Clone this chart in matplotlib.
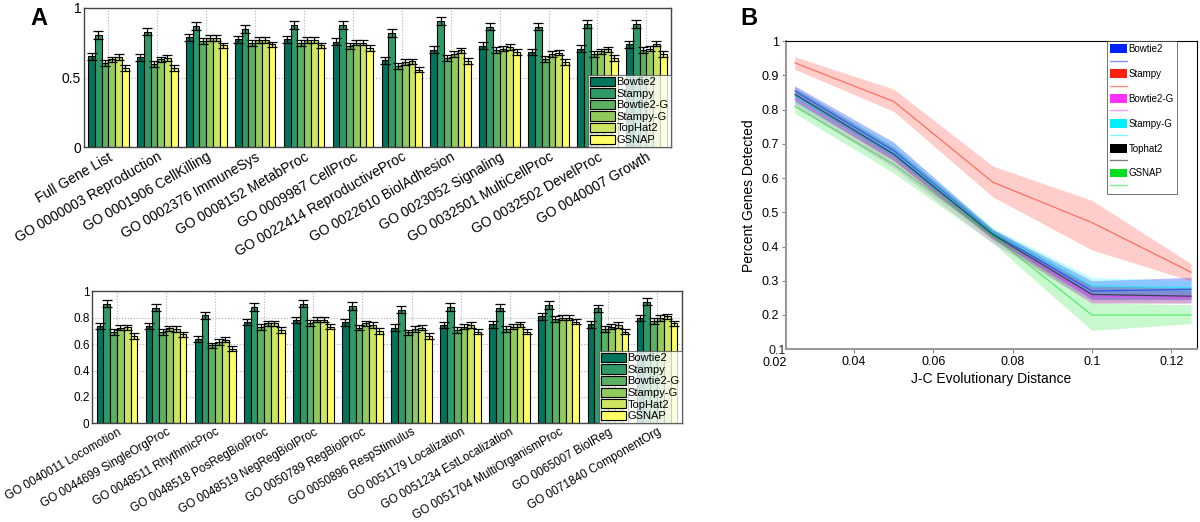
import matplotlib
matplotlib.use('Agg')
import matplotlib.pyplot as plt
from matplotlib.patches import Patch
from matplotlib.lines import Line2D
import numpy as np

plt.rcParams['font.family'] = ['Liberation Sans', 'DejaVu Sans']

# --- Panel A data ---
methods = ['Bowtie2', 'Stampy', 'Bowtie2-G', 'Stampy-G', 'TopHat2', 'GSNAP']
bar_colors = ['#00745c', '#2f9a68', '#5bb062', '#90c95c', '#cde560', '#ffff66']

top_labels = ['Full Gene List', 'GO 0000003 Reproduction', 'GO 0001906 CellKilling',
              'GO 0002376 ImmuneSys', 'GO 0008152 MetabProc', 'GO 0009987 CellProc',
              'GO 0022414 ReproductiveProc', 'GO 0022610 BiolAdhesion',
              'GO 0023052 Signaling', 'GO 0032501 MultiCellProc',
              'GO 0032502 DevelProc', 'GO 0040007 Growth']
top_bowtie2  = [0.654, 0.646, 0.790, 0.776, 0.776, 0.756, 0.625, 0.700, 0.727, 0.683, 0.707, 0.737]
top_stampy   = [0.805, 0.830, 0.870, 0.850, 0.878, 0.878, 0.817, 0.907, 0.866, 0.866, 0.883, 0.883]
top_bowtie2g = [0.605, 0.600, 0.760, 0.750, 0.750, 0.727, 0.585, 0.640, 0.695, 0.634, 0.670, 0.695]
top_stampyg  = [0.630, 0.630, 0.785, 0.770, 0.770, 0.750, 0.610, 0.670, 0.707, 0.670, 0.688, 0.707]
top_tophat2  = [0.646, 0.640, 0.785, 0.770, 0.770, 0.750, 0.615, 0.695, 0.720, 0.678, 0.702, 0.744]
top_gsnap    = [0.568, 0.570, 0.730, 0.737, 0.730, 0.710, 0.556, 0.620, 0.683, 0.610, 0.640, 0.670]
top_err      = [0.025, 0.028, 0.022, 0.02, 0.02, 0.02]

bot_labels = ['GO 0040011 Locomotion', 'GO 0044699 SingleOrgProc', 'GO 0048511 RhythmicProc',
              'GO 0048518 PosRegBiolProc', 'GO 0048519 NegRegBiolProc', 'GO 0050789 RegBiolProc',
              'GO 0050896 RespStimulus', 'GO 0051179 Localization', 'GO 0051234 EstLocalization',
              'GO 0051704 MultiOrganismProc', 'GO 0065007 BiolReg', 'GO 0071840 ComponentOrg']
bot_bowtie2  = [0.738, 0.738, 0.640, 0.766, 0.784, 0.764, 0.725, 0.745, 0.750, 0.810, 0.750, 0.797]
bot_stampy   = [0.906, 0.875, 0.818, 0.880, 0.906, 0.888, 0.862, 0.880, 0.875, 0.896, 0.870, 0.922]
bot_bowtie2g = [0.694, 0.694, 0.590, 0.732, 0.758, 0.725, 0.688, 0.706, 0.714, 0.792, 0.714, 0.777]
bot_stampyg  = [0.725, 0.720, 0.615, 0.758, 0.784, 0.758, 0.714, 0.732, 0.732, 0.800, 0.732, 0.797]
bot_tophat2  = [0.727, 0.714, 0.634, 0.758, 0.784, 0.745, 0.725, 0.745, 0.750, 0.800, 0.745, 0.810]
bot_gsnap    = [0.662, 0.673, 0.564, 0.706, 0.732, 0.700, 0.662, 0.694, 0.694, 0.770, 0.694, 0.758]
bot_err      = [0.025, 0.028, 0.022, 0.02, 0.02, 0.02]

# --- Panel B data ---
jc_dist = [0.025, 0.05, 0.075, 0.1, 0.125]
b_names = ['Bowtie2', 'Stampy', 'Bowtie2-G', 'Stampy-G', 'Tophat2', 'GSNAP']
b_colors = ['#0022ff', '#ff2010', '#ff30ff', '#00f0ff', '#000000', '#00e020']
bowtie2_mean  = [0.855, 0.680, 0.440, 0.270, 0.275]
bowtie2_lo    = [0.835, 0.660, 0.425, 0.245, 0.245]
bowtie2_hi    = [0.870, 0.705, 0.450, 0.300, 0.310]
stampy_mean   = [0.937, 0.824, 0.588, 0.470, 0.325]
stampy_lo     = [0.918, 0.795, 0.545, 0.390, 0.300]
stampy_hi     = [0.955, 0.860, 0.635, 0.535, 0.350]
bowtie2g_mean = [0.830, 0.655, 0.425, 0.255, 0.250]
bowtie2g_lo   = [0.810, 0.630, 0.410, 0.235, 0.235]
bowtie2g_hi   = [0.850, 0.680, 0.440, 0.280, 0.270]
stampyg_mean  = [0.840, 0.675, 0.440, 0.285, 0.280]
stampyg_lo    = [0.820, 0.655, 0.430, 0.260, 0.260]
stampyg_hi    = [0.860, 0.700, 0.455, 0.310, 0.300]
tophat2_mean  = [0.845, 0.670, 0.435, 0.260, 0.255]
tophat2_lo    = [0.825, 0.650, 0.420, 0.235, 0.235]
tophat2_hi    = [0.865, 0.690, 0.450, 0.285, 0.280]
gsnap_mean    = [0.810, 0.640, 0.430, 0.200, 0.200]
gsnap_lo      = [0.790, 0.615, 0.410, 0.155, 0.175]
gsnap_hi      = [0.830, 0.660, 0.445, 0.235, 0.230]


def bar_panel(ax, labels, series, errs, yticks, fs_tick, fs_lab, fs_leg):
    n = len(labels)
    x = np.arange(1, n + 1)
    w = 0.83 / len(series)
    for i, vals in enumerate(series):
        pos = x - 0.415 + w * (i + 0.5)
        ax.bar(pos, vals, width=w, color=bar_colors[i], edgecolor='black',
               linewidth=0.8, label=methods[i], zorder=2)
        ax.errorbar(pos, vals, yerr=errs[i], fmt='none', ecolor='black',
                    elinewidth=0.9, capsize=3.5, capthick=0.9, zorder=3)
    ax.set_xlim(0.5, n + 0.5)
    ax.set_ylim(0, 1.0)
    ax.set_xticks(x)
    ax.set_xticklabels(labels, rotation=30, ha='right', rotation_mode='anchor',
                       fontsize=fs_lab)
    ax.set_yticks(yticks)
    ax.set_yticklabels([('%g' % t) for t in yticks], fontsize=fs_tick)
    ax.tick_params(length=0, pad=2)
    ax.grid(True, linestyle=':', color='#b0b0b0', linewidth=0.8, zorder=0)
    ax.set_axisbelow(True)
    for s in ax.spines.values():
        s.set_color('#444444')
        s.set_linewidth(1.0)
    leg = ax.legend(loc='lower right', fontsize=fs_leg, frameon=True, fancybox=False,
                    borderpad=0.2, labelspacing=0.1, handlelength=2.2, handleheight=0.9,
                    handletextpad=0.15, borderaxespad=0.0)
    leg.get_frame().set_edgecolor('#555555')
    leg.get_frame().set_linewidth(0.8)


fig = plt.figure(figsize=(12, 5.22), dpi=100)

ax1 = fig.add_axes([0.070, 0.718, 0.489, 0.267])
bar_panel(ax1, top_labels,
          [top_bowtie2, top_stampy, top_bowtie2g, top_stampyg, top_tophat2, top_gsnap],
          top_err, [0, 0.5, 1], 10, 10, 8)

ax2 = fig.add_axes([0.077, 0.189, 0.491, 0.253])
bar_panel(ax2, bot_labels,
          [bot_bowtie2, bot_stampy, bot_bowtie2g, bot_stampyg, bot_tophat2, bot_gsnap],
          bot_err, [0, 0.2, 0.4, 0.6, 0.8, 1], 8.5, 8.5, 8)

# --- Panel B ---
ax3 = fig.add_axes([0.655, 0.331, 0.3425, 0.590])
b_means = [bowtie2_mean, stampy_mean, bowtie2g_mean, stampyg_mean, tophat2_mean, gsnap_mean]
b_los = [bowtie2_lo, stampy_lo, bowtie2g_lo, stampyg_lo, tophat2_lo, gsnap_lo]
b_his = [bowtie2_hi, stampy_hi, bowtie2g_hi, stampyg_hi, tophat2_hi, gsnap_hi]
fill_alpha = [0.3, 0.22, 0.22, 0.22, 0.18, 0.22]
for i in range(len(b_names)):
    ax3.fill_between(jc_dist, b_los[i], b_his[i], color=b_colors[i],
                     alpha=fill_alpha[i], linewidth=0)
for i in range(len(b_names)):
    ax3.plot(jc_dist, b_means[i], color=b_colors[i], linewidth=0.9, alpha=0.55)

ax3.set_xlim(0.0228, 0.1265)
ax3.set_ylim(0.1, 1.0)
ax3.set_xticks([0.04, 0.06, 0.08, 0.1, 0.12])
ax3.set_xticklabels(['0.04', '0.06', '0.08', '0.1', '0.12'], fontsize=9)
ax3.set_yticks([0.2, 0.3, 0.4, 0.5, 0.6, 0.7, 0.8, 0.9, 1.0])
ax3.set_yticklabels(['0.2', '0.3', '0.4', '0.5', '0.6', '0.7', '0.8', '0.9', '1'], fontsize=9)
ax3.text(0.0, -0.005, '0.1', transform=ax3.transAxes, ha='right', va='center', fontsize=9,
         color='#222222')
ax3.text(0.02, -0.045, '0.02', transform=ax3.get_xaxis_transform(), ha='center', va='center',
         fontsize=9, clip_on=False)
ax3.tick_params(direction='out', length=3, color='#888888', pad=2)
ax3.set_xlabel('J-C Evolutionary Distance', fontsize=10, labelpad=3)
ax3.set_ylabel('Percent Genes Detected', fontsize=10, labelpad=4)
ax3.spines['left'].set_color('#999999')
ax3.spines['bottom'].set_color('#999999')
ax3.spines['left'].set_linewidth(1.5)
ax3.spines['bottom'].set_linewidth(1.5)
ax3.spines['top'].set_linewidth(0.8)
ax3.spines['right'].set_linewidth(0.8)

handles = []
labels = []
for i in range(len(b_names)):
    handles.append(Patch(facecolor=b_colors[i], edgecolor='none'))
    labels.append(b_names[i])
    handles.append(Line2D([0], [0], color=b_colors[i], alpha=0.5, linewidth=1))
    labels.append('')
leg = ax3.legend(handles, labels, loc='upper left', bbox_to_anchor=(0.781, 1.0),
                 fontsize=7, frameon=True, fancybox=False, borderpad=0.3,
                 labelspacing=0.25, handlelength=1.8, handleheight=1.0,
                 handletextpad=0.1, borderaxespad=0.0)
leg.get_frame().set_edgecolor('#333333')
leg.get_frame().set_linewidth(0.6)

fig.text(0.025, 0.965, 'A', fontsize=17, fontweight='bold', ha='left', va='center')
fig.text(0.617, 0.965, 'B', fontsize=17, fontweight='bold', ha='left', va='center')

fig.savefig('out.png', dpi=100)
